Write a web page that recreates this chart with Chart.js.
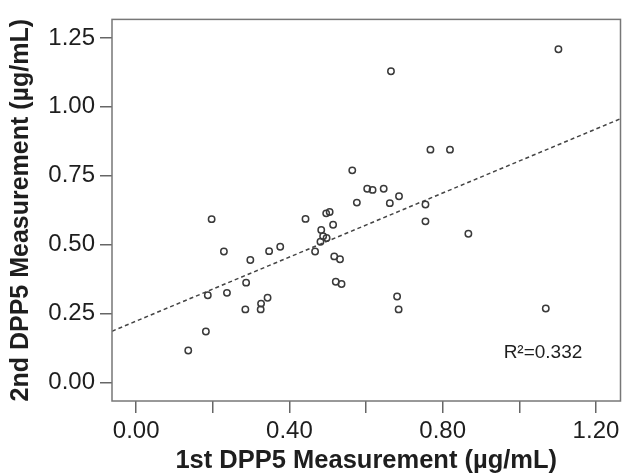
<!DOCTYPE html>
<html>
<head>
<meta charset="utf-8">
<script src="https://cdn.jsdelivr.net/npm/chart.js@4"></script>
<style>
body{margin:0;background:#fff}
</style>
</head>
<body>
<canvas id="dpp5_chart" width="626" height="476"></canvas>
<script>
const firstMeasure = [0.136,0.182,0.187,0.197,0.229,0.237,0.285,0.287,0.298,0.325,0.326,0.343,0.347,0.376,
    0.442,0.467,0.481,0.483,0.488,0.497,0.496,0.505,0.514,0.517,0.532,0.521,0.536,0.564,0.576,0.603,
    0.617,0.646,0.662,0.686,0.665,0.755,0.755,0.768,0.819,0.867,0.681,0.685,1.069,1.102];
const secondMeasure = [0.117,0.186,0.317,0.593,0.476,0.326,0.266,0.363,0.445,0.266,0.287,0.308,0.477,0.493,
    0.594,0.476,0.511,0.554,0.531,0.525,0.614,0.619,0.573,0.458,0.448,0.366,0.358,0.770,0.653,0.703,
    0.699,0.703,0.651,0.676,1.129,0.646,0.585,0.845,0.845,0.540,0.313,0.266,0.269,1.209];
// fit line end points
const fitX = [-0.063, 1.264];
const fitY = [0.187, 0.957];
const xTicks = [0, 0.2, 0.4, 0.6, 0.8, 1.0, 1.2];
const yTicks = [0, 0.25, 0.5, 0.75, 1.0, 1.25];
const rSquared = "R\u00b2=0.332";

const fontFamily = "'Liberation Sans', Arial, sans-serif";

let points = [];
for(let i=0; i<firstMeasure.length; i++){
    points.push({x:firstMeasure[i], y:secondMeasure[i]});
}
let fitLine = [];
for(let i=0; i<fitX.length; i++){
    fitLine.push({x:fitX[i], y:fitY[i]});
}

const framePlugin = {
    id:"frame",
    afterDraw(chart){
        const ctx = chart.ctx, a = chart.chartArea;
        ctx.save();
        ctx.strokeStyle = "#777";
        ctx.lineWidth = 1.5;
        ctx.strokeRect(a.left, a.top, a.right - a.left, a.bottom - a.top);
        // R squared note
        ctx.fillStyle = "#1e1e1e";
        ctx.font = "19px " + fontFamily;
        ctx.textBaseline = "middle";
        ctx.fillText(rSquared, chart.scales.x.getPixelForValue(0.959), chart.scales.y.getPixelForValue(0.107));
        ctx.restore();
    }
};

new Chart(document.getElementById("dpp5_chart"), {
    type:"scatter",
    data:{
        datasets:[
            {
                data:points,
                pointRadius:3.2,
                pointBorderWidth:1.5,
                pointBorderColor:"#3a3a3a",
                pointBackgroundColor:"rgba(255,255,255,0)"
            },
            {
                type:"line",
                data:fitLine,
                borderColor:"#444",
                borderWidth:1.5,
                borderDash:[4,3],
                pointRadius:0,
                fill:false
            }
        ]
    },
    options:{
        responsive:false,
        animation:false,
        layout:{padding:{top:9, right:1, left:0, bottom:0}},
        plugins:{legend:{display:false}, tooltip:{enabled:false}},
        scales:{
            x:{
                type:"linear",
                min:-0.063,
                max:1.264,
                afterBuildTicks(scale){ scale.ticks = xTicks.map(v => ({value:v})); },
                afterFit(scale){ scale.height = 75; },
                grid:{drawOnChartArea:false, drawTicks:true, tickLength:12, color:"#666", lineWidth:1.5},
                border:{display:false},
                ticks:{
                    padding:4,
                    color:"#1e1e1e",
                    font:{family:fontFamily, size:24},
                    maxRotation:0,
                    autoSkip:false,
                    callback:function(value, index){ return index % 2 == 0 ? value.toFixed(2) : ""; }
                },
                title:{
                    display:true,
                    text:"1st DPP5 Measurement (\u00b5g/mL)",
                    color:"#1e1e1e",
                    font:{family:fontFamily, size:25.5, weight:"bold"},
                    padding:{top:0, bottom:0}
                }
            },
            y:{
                type:"linear",
                min:-0.066,
                max:1.317,
                afterBuildTicks(scale){ scale.ticks = yTicks.map(v => ({value:v})); },
                afterFit(scale){ scale.width = 112; },
                grid:{drawOnChartArea:false, drawTicks:true, tickLength:12, color:"#666", lineWidth:1.5},
                border:{display:false},
                ticks:{
                    padding:5,
                    color:"#1e1e1e",
                    font:{family:fontFamily, size:24},
                    autoSkip:false,
                    callback:function(value){ return value.toFixed(2); }
                },
                title:{
                    display:true,
                    text:"2nd DPP5 Measurement (\u00b5g/mL)",
                    color:"#1e1e1e",
                    font:{family:fontFamily, size:25, weight:"bold"},
                    padding:{top:6, bottom:0}
                }
            }
        }
    },
    plugins:[framePlugin]
});
</script>
</body>
</html>
